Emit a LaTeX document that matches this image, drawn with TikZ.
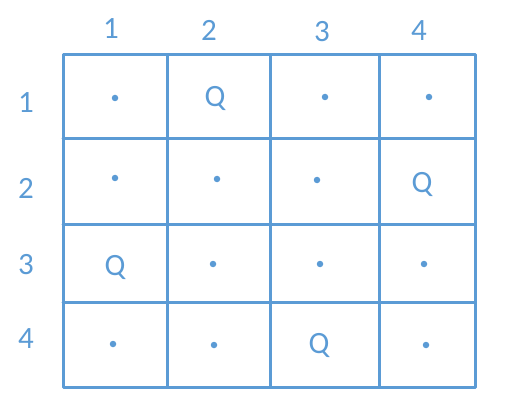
\documentclass[tikz,border=0pt]{standalone}
\usepackage{fontspec}
\setmainfont{Carlito}
\definecolor{gblue}{HTML}{5B9BD5}
\begin{document}
\begin{tikzpicture}[x=1pt,y=-1pt,
  gridline/.style={draw=gblue,line width=3pt,line cap=round,line join=round},
  lbl/.style={text=gblue,font=\fontsize{31}{31}\selectfont,anchor=base,inner sep=0pt},
  queen/.style={text=gblue,font=\fontsize{31}{31}\selectfont,anchor=base,inner sep=0pt},
  spot/.style={circle,fill=gblue,inner sep=0pt,minimum size=6.5pt}]
\useasboundingbox (0,0) rectangle (510,403);
% grid
\draw[gridline] (63,55) rectangle (475,387);
\draw[gridline] (167,55) -- (167,387);
\draw[gridline] (270,55) -- (270,387);
\draw[gridline] (379,55) -- (379,387);
\draw[gridline] (63,139) -- (475,139);
\draw[gridline] (63,224) -- (475,224);
\draw[gridline] (63,302) -- (475,302);
% column labels
\node[lbl] (c1) at (111,39) {1};
\node[lbl] (c2) at (209,41) {2};
\node[lbl] (c3) at (322,42) {3};
\node[lbl] (c4) at (419,41) {4};
% row labels
\node[lbl] (r1) at (26,113) {1};
\node[lbl] (r2) at (26,198) {2};
\node[lbl] (r3) at (26,274) {3};
\node[lbl] (r4) at (26,348) {4};
% row 1
\node[spot] (d11) at (115,98) {};
\node[queen] (q12) at (215,107) {Q};
\node[spot] (d13) at (325,97) {};
\node[spot] (d14) at (429,97) {};
% row 2
\node[spot] (d21) at (115,178) {};
\node[spot] (d22) at (217,179) {};
\node[spot] (d23) at (317,180) {};
\node[queen] (q24) at (422,193) {Q};
% row 3
\node[queen] (q31) at (115,275) {Q};
\node[spot] (d32) at (213,264) {};
\node[spot] (d33) at (320,264) {};
\node[spot] (d34) at (424,264) {};
% row 4
\node[spot] (d41) at (113,344) {};
\node[spot] (d42) at (214,345) {};
\node[queen] (q43) at (319,353) {Q};
\node[spot] (d44) at (426,345) {};
\end{tikzpicture}
\end{document}
